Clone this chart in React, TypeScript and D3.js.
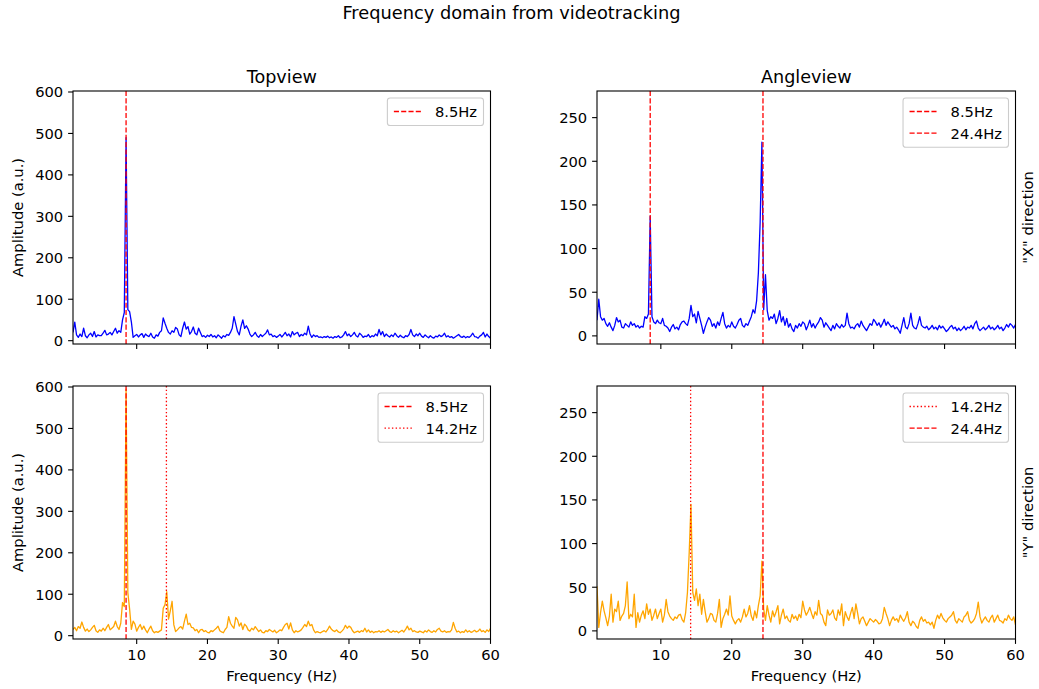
import React, { useEffect, useRef } from 'react';
import * as d3 from 'd3';

// FFT bin grid (Hz)
const FREQ_START = 1;
const FREQ_STEP = 0.25;

// Amplitudes, one value per bin (1.00 Hz ... 60.00 Hz, step 0.25 Hz)
const topviewX = [
  20, 45, 14, 8, 16, 10, 30, 12, 7, 14, 18, 10, 22, 9, 14, 12, 12, 18, 25, 14,
  16, 20, 14, 22, 30, 18, 24, 20, 50, 68, 490, 75, 70, 45, 8, 12, 15, 9, 14, 17,
  8, 16, 12, 10, 18, 9, 6, 14, 11, 20, 24, 55, 42, 30, 20, 16, 24, 20, 32, 28,
  14, 10, 30, 45, 28, 34, 16, 22, 33, 18, 14, 30, 20, 10, 12, 8, 13, 10, 15, 9,
  12, 7, 14, 10, 6, 12, 9, 15, 13, 20, 30, 58, 40, 22, 14, 35, 50, 30, 36, 28,
  16, 10, 14, 20, 12, 8, 15, 10, 14, 18, 26, 14, 16, 10, 12, 8, 11, 15, 9, 14,
  20, 12, 16, 9, 22, 14, 18, 20, 10, 15, 12, 18, 14, 35, 16, 8, 14, 10, 12, 8,
  9, 7, 10, 8, 11, 7, 9, 6, 10, 8, 12, 7, 9, 14, 22, 12, 16, 10, 14, 20,
  12, 9, 18, 14, 8, 11, 10, 15, 8, 12, 10, 16, 12, 27, 14, 22, 10, 16, 12, 9,
  14, 10, 18, 12, 8, 13, 9, 7, 12, 10, 15, 27, 14, 10, 16, 12, 18, 11, 8, 14,
  10, 7, 12, 8, 6, 11, 9, 14, 10, 12, 18, 9, 12, 8, 10, 6, 9, 12, 15, 10,
  8, 11, 7, 10, 8, 12, 18, 10, 9, 6, 11, 14, 20, 9, 16, 10, 6,
];

const angleviewX = [
  18, 42, 22, 18, 20, 14, 11, 15, 10, 6, 12, 21, 16, 18, 10, 9, 14, 12, 10, 16,
  12, 14, 10, 12, 9, 11, 10, 22, 20, 25, 137, 22, 16, 14, 18, 15, 14, 20, 12, 11,
  9, 5, 10, 13, 8, 10, 7, 13, 16, 17, 14, 12, 20, 35, 22, 25, 15, 28, 20, 12,
  3, 10, 16, 21, 18, 11, 14, 9, 16, 12, 20, 27, 14, 9, 12, 10, 16, 11, 9, 13,
  18, 20, 12, 10, 14, 12, 17, 22, 30, 26, 40, 72, 130, 222, 30, 70, 29, 18, 22, 20,
  25, 14, 20, 29, 16, 22, 12, 20, 10, 14, 8, 5, 12, 9, 14, 11, 16, 14, 7, 12,
  18, 10, 14, 9, 13, 16, 21, 18, 10, 15, 12, 9, 6, 12, 8, 14, 11, 9, 13, 10,
  12, 26, 14, 9, 10, 8, 12, 14, 10, 17, 12, 9, 6, 10, 14, 12, 19, 16, 12, 15,
  10, 14, 19, 12, 16, 13, 10, 12, 8, 10, 7, 3, 12, 21, 10, 8, 14, 26, 12, 9,
  8, 14, 22, 12, 10, 9, 11, 7, 9, 12, 8, 10, 7, 12, 9, 11, 8, 5, 7, 10,
  12, 8, 10, 6, 9, 6, 8, 11, 7, 10, 9, 12, 8, 14, 17, 9, 6, 8, 10, 7,
  9, 12, 8, 10, 7, 9, 12, 8, 10, 6, 9, 13, 10, 14, 12, 9, 13,
];

const topviewY = [
  15, 20, 12, 22, 18, 33, 20, 11, 16, 10, 14, 20, 25, 12, 8, 14, 11, 18, 12, 20,
  27, 14, 18, 22, 35, 22, 15, 30, 80, 70, 595, 104, 64, 15, 35, 28, 11, 20, 27, 15,
  23, 14, 7, 16, 23, 12, 7, 10, 8, 11, 14, 66, 75, 106, 40, 60, 83, 26, 10, 14,
  19, 22, 16, 35, 52, 27, 30, 20, 19, 12, 15, 7, 14, 15, 10, 12, 8, 7, 12, 10,
  14, 18, 23, 12, 9, 7, 15, 20, 46, 30, 23, 18, 44, 38, 23, 31, 15, 28, 23, 14,
  11, 18, 14, 22, 16, 10, 14, 8, 7, 12, 10, 15, 12, 9, 13, 7, 10, 14, 12, 20,
  27, 30, 16, 31, 14, 7, 12, 9, 11, 14, 20, 27, 22, 35, 24, 27, 14, 7, 10, 8,
  7, 10, 12, 9, 15, 23, 16, 12, 10, 14, 9, 7, 11, 16, 25, 18, 23, 20, 12, 7,
  9, 11, 8, 12, 10, 18, 9, 14, 8, 11, 7, 10, 9, 12, 8, 11, 9, 12, 15, 10,
  8, 12, 9, 11, 7, 10, 13, 9, 15, 23, 14, 18, 10, 12, 9, 8, 11, 9, 7, 12,
  9, 14, 10, 8, 12, 9, 15, 18, 11, 9, 12, 8, 10, 9, 14, 32, 18, 9, 11, 7,
  10, 8, 14, 9, 12, 8, 10, 13, 9, 11, 16, 10, 12, 8, 14, 10, 18,
];

const angleviewY = [
  51, 4, 21, 34, 23, 15, 6, 17, 42, 10, 25, 22, 34, 12, 17, 20, 29, 56, 14, 19,
  16, 42, 4, 21, 10, 18, 23, 14, 31, 19, 25, 12, 18, 25, 14, 20, 25, 10, 18, 36,
  22, 17, 14, 12, 16, 14, 18, 19, 13, 10, 21, 44, 90, 145, 44, 35, 48, 29, 42, 19,
  36, 22, 10, 14, 20, 19, 12, 10, 20, 36, 4, 14, 19, 25, 18, 40, 17, 12, 8, 12,
  14, 10, 16, 25, 16, 20, 29, 17, 12, 23, 15, 29, 40, 80, 25, 12, 29, 18, 10, 23,
  16, 22, 29, 8, 18, 25, 14, 17, 12, 10, 19, 14, 17, 12, 19, 15, 34, 24, 18, 22,
  27, 20, 14, 22, 18, 35, 20, 18, 10, 6, 24, 18, 20, 24, 15, 12, 24, 18, 31, 6,
  22, 16, 12, 20, 27, 14, 31, 20, 8, 14, 16, 11, 6, 10, 14, 12, 10, 13, 11, 8,
  9, 14, 27, 20, 14, 6, 12, 16, 12, 14, 10, 18, 14, 11, 15, 22, 10, 6, 11, 9,
  5, 3, 12, 16, 11, 13, 9, 10, 7, 10, 3, 12, 18, 14, 20, 15, 12, 10, 14, 16,
  18, 22, 12, 9, 14, 12, 10, 16, 18, 22, 12, 9, 11, 14, 20, 33, 16, 9, 13, 16,
  12, 10, 15, 18, 10, 14, 18, 12, 11, 9, 14, 12, 18, 14, 12, 16, 7,
];

const xTicks = [10, 20, 30, 40, 50, 60];
const topviewTicks = [0, 100, 200, 300, 400, 500, 600];
const angleviewTicks = [0, 50, 100, 150, 200, 250];

type Marker = { freq: number; label: string; style: 'dashed' | 'dotted' };
const markersTopviewX: Marker[] = [{ freq: 8.5, label: '8.5Hz', style: 'dashed' }];
const markersAngleviewX: Marker[] = [
  { freq: 8.5, label: '8.5Hz', style: 'dashed' },
  { freq: 24.4, label: '24.4Hz', style: 'dashed' },
];
const markersTopviewY: Marker[] = [
  { freq: 8.5, label: '8.5Hz', style: 'dashed' },
  { freq: 14.2, label: '14.2Hz', style: 'dotted' },
];
const markersAngleviewY: Marker[] = [
  { freq: 14.2, label: '14.2Hz', style: 'dotted' },
  { freq: 24.4, label: '24.4Hz', style: 'dashed' },
];

const W = 1039;
const H = 689;
const FONT = "'DejaVu Sans', sans-serif";
const FS = 14.7;
const FS_TITLE = 17.6;

export default function App() {
  const ref = useRef<SVGSVGElement | null>(null);

  useEffect(() => {
    const svg = d3.select(ref.current);
    svg.selectAll('*').remove();

    const n = topviewX.length;
    const freqs = d3.range(n).map((i) => FREQ_START + i * FREQ_STEP);

    const L = { x0: 73, x1: 490.5 };
    const R = { x0: 597, x1: 1015.5 };
    const T = { y0: 91, y1: 344 };
    const B = { y0: 386, y1: 639 };

    const panels = [
      { id: 'tl', h: L, v: T, values: topviewX, color: 'blue', yDomain: [-8, 602.4], yTicks: topviewTicks, markers: markersTopviewX, xLabels: false, title: 'Topview', ylabel: 'Amplitude (a.u.)', rlabel: '' },
      { id: 'tr', h: R, v: T, values: angleviewX, color: 'blue', yDomain: [-9.3, 280.5], yTicks: angleviewTicks, markers: markersAngleviewX, xLabels: false, title: 'Angleview', ylabel: '', rlabel: '"X" direction' },
      { id: 'bl', h: L, v: B, values: topviewY, color: 'orange', yDomain: [-8, 602.4], yTicks: topviewTicks, markers: markersTopviewY, xLabels: true, title: '', ylabel: 'Amplitude (a.u.)', rlabel: '' },
      { id: 'br', h: R, v: B, values: angleviewY, color: 'orange', yDomain: [-9.3, 280.5], yTicks: angleviewTicks, markers: markersAngleviewY, xLabels: true, title: '', ylabel: '', rlabel: '"Y" direction' },
    ];

    const defs = svg.append('defs');

    svg.append('text')
      .attr('x', 511.5).attr('y', 18.5)
      .attr('text-anchor', 'middle')
      .attr('font-family', FONT).attr('font-size', 17.8)
      .attr('fill', '#000')
      .text('Frequency domain from videotracking');

    const dashFor = (s: string) => (s === 'dashed' ? '5.1,2.2' : '1.4,2.3');

    panels.forEach((p) => {
      const x = d3.scaleLinear().domain([1, 60]).range([p.h.x0, p.h.x1]);
      const y = d3.scaleLinear().domain(p.yDomain).range([p.v.y1, p.v.y0]);
      const g = svg.append('g');

      defs.append('clipPath').attr('id', `clip-${p.id}`)
        .append('rect')
        .attr('x', p.h.x0).attr('y', p.v.y0)
        .attr('width', p.h.x1 - p.h.x0).attr('height', p.v.y1 - p.v.y0);

      const line = d3.line<number>()
        .x((_, i) => x(freqs[i]))
        .y((d) => y(d));

      g.append('path')
        .datum(p.values)
        .attr('d', line)
        .attr('fill', 'none')
        .attr('stroke', p.color)
        .attr('stroke-width', 1.3)
        .attr('stroke-linejoin', 'round')
        .attr('clip-path', `url(#clip-${p.id})`);

      p.markers.forEach((m) => {
        g.append('line')
          .attr('x1', x(m.freq)).attr('x2', x(m.freq))
          .attr('y1', p.v.y0).attr('y2', p.v.y1)
          .attr('stroke', 'red').attr('stroke-width', 1.3)
          .attr('stroke-dasharray', dashFor(m.style));
      });

      // spines
      g.append('rect')
        .attr('x', p.h.x0).attr('y', p.v.y0)
        .attr('width', p.h.x1 - p.h.x0).attr('height', p.v.y1 - p.v.y0)
        .attr('fill', 'none').attr('stroke', '#000').attr('stroke-width', 1.1);

      // x ticks
      xTicks.forEach((t) => {
        g.append('line')
          .attr('x1', x(t)).attr('x2', x(t))
          .attr('y1', p.v.y1).attr('y2', p.v.y1 + 4.9)
          .attr('stroke', '#000').attr('stroke-width', 1.1);
        if (p.xLabels) {
          g.append('text')
            .attr('x', x(t)).attr('y', p.v.y1 + 21.2)
            .attr('text-anchor', 'middle')
            .attr('font-family', FONT).attr('font-size', FS).attr('fill', '#000')
            .text(String(t));
        }
      });

      // y ticks
      p.yTicks.forEach((t) => {
        g.append('line')
          .attr('x1', p.h.x0 - 4.9).attr('x2', p.h.x0)
          .attr('y1', y(t)).attr('y2', y(t))
          .attr('stroke', '#000').attr('stroke-width', 1.1);
        g.append('text')
          .attr('x', p.h.x0 - 9.8).attr('y', y(t) + 5.3)
          .attr('text-anchor', 'end')
          .attr('font-family', FONT).attr('font-size', FS).attr('fill', '#000')
          .text(String(t));
      });

      const cx = (p.h.x0 + p.h.x1) / 2;
      const cy = (p.v.y0 + p.v.y1) / 2;

      if (p.title) {
        g.append('text')
          .attr('x', cx).attr('y', p.v.y0 - 8.3)
          .attr('text-anchor', 'middle')
          .attr('font-family', FONT).attr('font-size', FS_TITLE).attr('fill', '#000')
          .text(p.title);
      }
      if (p.xLabels) {
        g.append('text')
          .attr('x', cx).attr('y', 680.5)
          .attr('text-anchor', 'middle')
          .attr('font-family', FONT).attr('font-size', FS).attr('fill', '#000')
          .text('Frequency (Hz)');
      }
      if (p.ylabel) {
        g.append('text')
          .attr('transform', `translate(${22.5},${cy}) rotate(-90)`)
          .attr('text-anchor', 'middle')
          .attr('font-family', FONT).attr('font-size', FS).attr('fill', '#000')
          .text(p.ylabel);
      }
      if (p.rlabel) {
        g.append('text')
          .attr('transform', `translate(${1032.5},${cy}) rotate(-90)`)
          .attr('text-anchor', 'middle')
          .attr('font-family', FONT).attr('font-size', FS).attr('fill', '#000')
          .text(p.rlabel);
      }

      // legend
      const lg = g.append('g');
      const texts = p.markers.map((m) => lg.append('text')
        .attr('font-family', FONT).attr('font-size', FS).attr('fill', '#000')
        .text(m.label));
      const widths = texts.map((t) => (t.node() as SVGTextElement).getComputedTextLength());
      const maxW = d3.max(widths) || 40;
      const boxW = 6.5 + 29 + 12 + maxW + 6.5;
      const boxH = 27.5 + (p.markers.length - 1) * 21.7;
      const boxRight = p.h.x1 - 7;
      const boxLeft = boxRight - boxW;
      const boxTop = p.v.y0 + 7;
      lg.insert('rect', 'text')
        .attr('x', boxLeft).attr('y', boxTop)
        .attr('width', boxW).attr('height', boxH)
        .attr('rx', 2.8).attr('ry', 2.8)
        .attr('fill', 'rgba(255,255,255,0.8)')
        .attr('stroke', '#cccccc').attr('stroke-width', 1.1);
      p.markers.forEach((m, i) => {
        const rowY = boxTop + 13.5 + i * 21.7;
        lg.append('line')
          .attr('x1', boxLeft + 6.5).attr('x2', boxLeft + 35.5)
          .attr('y1', rowY).attr('y2', rowY)
          .attr('stroke', 'red').attr('stroke-width', 1.3)
          .attr('stroke-dasharray', dashFor(m.style));
        texts[i].attr('x', boxLeft + 47.5).attr('y', rowY + 5.3);
      });
    });
  }, []);

  return (
    <svg
      ref={ref}
      width={W}
      height={H}
      viewBox={`0 0 ${W} ${H}`}
      style={{ position: 'absolute', left: 0, top: 0, background: '#fff' }}
    />
  );
}
